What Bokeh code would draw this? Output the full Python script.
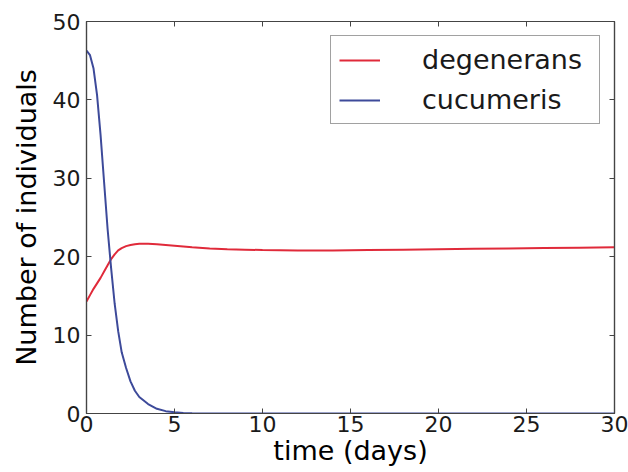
from bokeh.plotting import figure
from bokeh.models import (Range1d, LinearAxis, FixedTicker, Legend, LegendItem,
                          CustomJSTickFormatter)
from bokeh.embed import file_html
from bokeh.resources import INLINE

# time (days)
t = [0, 0.2, 0.4, 0.6, 0.8, 1.0, 1.2, 1.4, 1.6, 1.8, 2.0, 2.25, 2.5, 2.75, 3.0,
     3.5, 4.0, 4.5, 5.0, 5.5, 6.0, 7.0, 8.0, 9.0, 10.0, 12.0, 14.0, 16.0, 18.0,
     20.0, 22.0, 24.0, 26.0, 28.0, 30.0]

degenerans = [14.3, 15.1, 15.9, 16.6, 17.3, 18.1, 18.9, 19.7, 20.3, 20.8, 21.1,
              21.35, 21.5, 21.6, 21.65, 21.65, 21.6, 21.5, 21.4, 21.3, 21.2,
              21.05, 20.95, 20.9, 20.85, 20.8, 20.8, 20.85, 20.9, 20.95, 21.0,
              21.05, 21.1, 21.15, 21.2]

cucumeris = [46.3, 45.7, 44.0, 40.6, 35.5, 29.5, 23.5, 18.5, 14.0, 10.5, 7.8,
             5.8, 4.1, 2.9, 2.1, 1.2, 0.6, 0.3, 0.15, 0.07, 0.03, 0.01, 0.0,
             0.0, 0.0, 0.0, 0.0, 0.0, 0.0, 0.0, 0.0, 0.0, 0.0, 0.0, 0.0]

x_ticks = [0, 5, 10, 15, 20, 25, 30]
y_ticks = [0, 10, 20, 30, 40, 50]

FONT = "DejaVu Sans"
AX = "#444444"
RED = "#e02a3a"
BLUE = "#3d4a9a"

p = figure(width=628, height=472, output_backend="svg", toolbar_location=None,
           x_range=Range1d(0, 30), y_range=Range1d(0, 50),
           min_border_left=86, min_border_right=14, min_border_top=21,
           min_border_bottom=59)
p.grid.visible = False
p.outline_line_color = AX
p.outline_line_width = 1.2
p.background_fill_color = "white"
p.border_fill_color = "white"

r1 = p.line(t, degenerans, line_color=RED, line_width=2)
r2 = p.line(t, cucumeris, line_color=BLUE, line_width=2)


def style_axis(ax, ticks, show_labels):
    ax.ticker = FixedTicker(ticks=ticks)
    ax.axis_line_color = AX
    ax.axis_line_width = 1.2
    ax.major_tick_line_color = AX
    ax.major_tick_in = 5
    ax.major_tick_out = 0
    ax.minor_tick_line_color = None
    ax.major_label_text_font = FONT
    ax.axis_label_text_font = FONT
    ax.axis_label_text_font_style = "normal"
    ax.axis_label_text_color = "black"
    ax.major_label_text_color = "#1a1a1a"
    ax.major_label_text_font_size = "22px"
    ax.axis_label_text_font_size = "27px"
    if not show_labels:
        ax.formatter = CustomJSTickFormatter(code="return ''")
        ax.major_label_standoff = 0


xb = p.xaxis[0]
yl = p.yaxis[0]
style_axis(xb, x_ticks, True)
style_axis(yl, y_ticks, True)
xb.axis_label = "time (days)"
yl.axis_label = "Number of individuals"
xb.major_label_standoff = 2
xb.axis_label_standoff = 0
yl.major_label_standoff = 6
yl.axis_label_standoff = 8

xt = LinearAxis()
style_axis(xt, x_ticks, False)
p.add_layout(xt, "above")
yr = LinearAxis()
style_axis(yr, y_ticks, False)
p.add_layout(yr, "right")

legend = Legend(items=[LegendItem(label="degenerans", renderers=[r1]),
                       LegendItem(label="cucumeris", renderers=[r2])],
                location="top_right")
legend.label_text_font = FONT
legend.label_text_font_size = "27px"
legend.label_text_color = "#1a1a1a"
legend.glyph_width = 41
legend.label_standoff = 42
legend.label_width = 169
legend.padding = 8
legend.spacing = 9
legend.margin = 14
legend.border_line_color = AX
legend.border_line_width = 1.2
legend.background_fill_alpha = 1.0
p.add_layout(legend)

open("out.html", "w").write(file_html(p, INLINE))
